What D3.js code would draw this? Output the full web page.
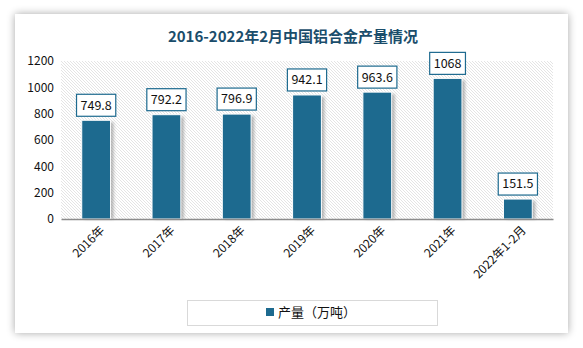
<!DOCTYPE html>
<html><head><meta charset="utf-8">
<script src="https://cdn.jsdelivr.net/npm/d3@7/dist/d3.min.js"></script>
<style>html,body{margin:0;padding:0;background:#fff;}svg{display:block;}</style>
</head><body><svg id="c" width="583" height="348"></svg>
<script>
const categories = ["2016年","2017年","2018年","2019年","2020年","2021年","2022年1-2月"];
const values = [749.8, 792.2, 796.9, 942.1, 963.6, 1068, 151.5];
const valueLabels = ["749.8","792.2","796.9","942.1","963.6","1068","151.5"];
const yTicks = [0,200,400,600,800,1000,1200];
const title = "2016-2022年2月中国铝合金产量情况";
const legendLabel = "产量（万吨）";

const svg = d3.select("#c");
const font = "'Noto Sans CJK SC','Noto Sans',sans-serif";
const barColor = "#1d6a8f";
const defs = svg.append("defs");
const f = defs.append("filter").attr("id","cardShadow").attr("x","-10%").attr("y","-10%").attr("width","120%").attr("height","120%");
f.append("feGaussianBlur").attr("in","SourceAlpha").attr("stdDeviation",4);
f.append("feOffset").attr("dx",0).attr("dy",0).attr("result","b");
f.append("feComponentTransfer").append("feFuncA").attr("type","linear").attr("slope",0.35);
const fm = f.append("feMerge"); fm.append("feMergeNode"); fm.append("feMergeNode").attr("in","SourceGraphic");
const bs = defs.append("filter").attr("id","barShadow").attr("x","-30%").attr("y","-10%").attr("width","160%").attr("height","130%");
bs.append("feGaussianBlur").attr("stdDeviation",1.5);
const pat = defs.append("pattern").attr("id","hatch").attr("patternUnits","userSpaceOnUse").attr("width",3).attr("height",3);
pat.append("rect").attr("width",3).attr("height",3).attr("fill","#fff");
pat.append("path").attr("d","M-1,-1 L4,4 M-1,2 L1,4 M2,-1 L4,1").attr("stroke","#d9d9d9").attr("stroke-width",0.7);

svg.append("rect").attr("x",15).attr("y",14).attr("width",553).attr("height",319).attr("fill","#fff").attr("filter","url(#cardShadow)");

svg.append("text").attr("x",293).attr("y",42).attr("text-anchor","middle")
  .attr("font-family",font).attr("font-weight","bold").attr("font-size",15).attr("fill","#1a4d6b").text(title);

const L=61, R=553, T=61, B=219;
const x = d3.scaleBand().domain(categories).range([L,R]).paddingInner(0.59).paddingOuter(0.295);
const y = d3.scaleLinear().domain([0,1200]).range([B,T]);

svg.append("rect").attr("x",L).attr("y",T).attr("width",R-L).attr("height",B-T).attr("fill","url(#hatch)");

const g = svg.append("g");
g.selectAll("rect.sh").data(values).join("rect")
  .attr("x",(d,i)=>x(categories[i])+3).attr("y",d=>y(d)+2).attr("width",x.bandwidth()).attr("height",d=>B-y(d)-2)
  .attr("fill","#888").attr("opacity",0.6).attr("filter","url(#barShadow)");
g.selectAll("rect.bar").data(values).join("rect")
  .attr("x",(d,i)=>x(categories[i])).attr("y",d=>y(d)).attr("width",x.bandwidth()).attr("height",d=>B-y(d))
  .attr("fill",barColor).attr("stroke","#fff").attr("stroke-width",1);

// axis
const xAxis = d3.axisBottom(x).tickSize(0).tickFormat("");
svg.append("g").attr("transform",`translate(0,${B})`).call(xAxis)
  .call(s=>s.select(".domain").attr("stroke","#8c8c8c").attr("stroke-width",1.5));

const yAxis = d3.axisLeft(y).tickValues(yTicks).tickFormat(d3.format("d")).tickSize(0).tickPadding(0);
svg.append("g").attr("transform",`translate(54,0)`).call(yAxis)
  .call(s=>s.select(".domain").remove())
  .call(s=>s.selectAll("text").attr("font-family",font).attr("font-size",12).attr("fill","#111"));

// x labels
svg.append("g").selectAll("text").data(categories).join("text")
  .attr("transform",d=>`translate(${x(d)+x.bandwidth()/2+6},${B+9}) rotate(-45)`)
  .attr("text-anchor","end").attr("dy","0.35em")
  .attr("font-family",font).attr("font-size",12).attr("fill","#111").text(d=>d);

// value labels
const lg = svg.append("g");
values.forEach((v,i)=>{
  const cx = x(categories[i])+x.bandwidth()/2;
  const t = lg.append("text").attr("x",cx).attr("y",y(v)-15).attr("text-anchor","middle").attr("dy","0.35em")
    .attr("font-family",font).attr("font-size",12.5).attr("fill","#111").text(valueLabels[i]);
  const w = t.node().getComputedTextLength()+8;
  lg.insert("rect","text").attr("x",cx-w/2).attr("y",y(v)-26).attr("width",w).attr("height",22)
    .attr("fill","#fff").attr("stroke","#1d6a8f").attr("stroke-width",1.2);
});

// legend
svg.append("rect").attr("x",187.5).attr("y",300.5).attr("width",250).attr("height",25).attr("fill","#fff").attr("stroke","#d9d9d9");
svg.append("rect").attr("x",266).attr("y",308).attr("width",8).attr("height",8).attr("fill",barColor);
svg.append("text").attr("x",278).attr("y",312).attr("dy","0.35em").attr("font-family",font).attr("font-size",13).attr("fill","#111").text(legendLabel);
</script></body></html>
